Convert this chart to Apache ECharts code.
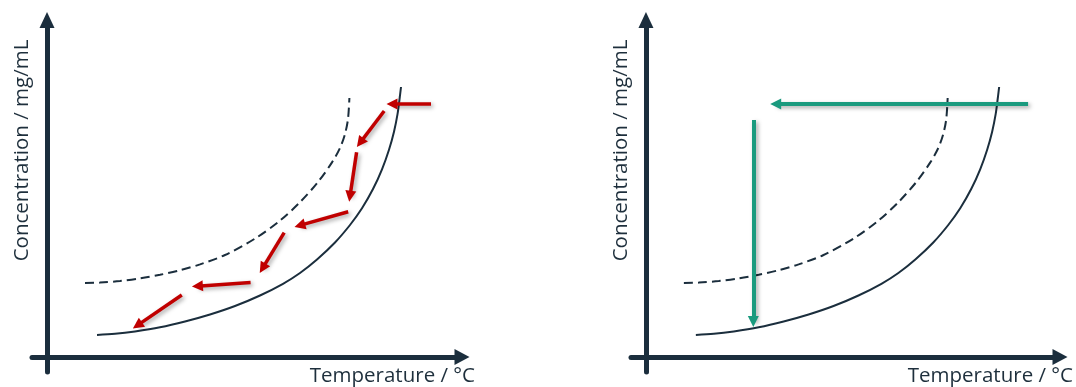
<!DOCTYPE html>
<html>
<head>
<meta charset="utf-8">
<script src="https://cdn.jsdelivr.net/npm/echarts@6/dist/echarts.min.js"></script>
<style>
html,body{margin:0;padding:0;background:#fff;}
#chart{width:1076px;height:387px;}
</style>
</head>
<body>
<div id="chart"></div>
<script>
// ---- data (arbitrary units; x = temperature, y = concentration) ----
const xAxisName = 'Temperature / °C';
const yAxisName = 'Concentration / mg/mL';

// solubility curve (solid)
const solubilityCurve = [
  [12.5, 5.5], [17, 5.8], [22, 6.4], [28.25, 7.43], [34.5, 8.88], [40.75, 10.63], [47, 12.75],
  [53.25, 15.38], [59, 18.3], [63.25, 21], [67.5, 24.38], [72, 28.63], [75.75, 33],
  [78.75, 37.18], [81.5, 41.98], [83.75, 46.93], [85.5, 51.83], [86.75, 56.33], [87.63, 60.7],
  [88.2, 65], [88.5, 67.5]
];
// metastable limit (dashed)
const metastableCurve = [
  [9.5, 18.5], [13.25, 18.6], [18.25, 19.0], [23.25, 19.65], [28.25, 20.55], [33.25, 21.7],
  [38.25, 23.15], [44.5, 25.5], [52, 29.6], [58.25, 34.1], [63.25, 38.7], [67.75, 43.75],
  [71.25, 48.65], [73.25, 52.25], [74.5, 55.75], [75.25, 59.5], [75.6, 64.75]
];
// left panel: stepwise cooling path (tail -> head)
const coolingSteps = [
  [[96, 63.25], [86.25, 63.25]],
  [[84.3, 61.5], [78.3, 53.6]],
  [[77.4, 51.2], [75.75, 40.2]],
  [[75.3, 36.3], [63.2, 32.9]],
  [[59.3, 31.1], [53.9, 22.2]],
  [[50.9, 18.6], [37.6, 17.7]],
  [[33.7, 15.5], [22.6, 7.9]]
];
// right panel: crash cooling path (tail -> head)
const crashPath = [
  [[95.75, 63.25], [32.5, 63.25]],
  [[26.9, 59.25], [26.9, 8.9]]
];

const axisColor = '#1b2e3d';
const textColor = '#1e2f3c';
const fontFamily = '"Open Sans", "Noto Sans", sans-serif';
const fontSize = 20.5;

function makeX(gi) {
  return {
    type: 'value', gridIndex: gi, min: -3.75, max: 103,
    name: xAxisName, nameLocation: 'end', nameGap: 16,
    nameTextStyle: { color: textColor, fontSize: fontSize, fontFamily: fontFamily, align: 'right', verticalAlign: 'top', padding: [9, 0, 0, 0] },
    axisLine: { show: true, onZero: true, symbol: ['none', 'triangle'], symbolSize: [16, 15], symbolOffset: [0, 3],
      lineStyle: { color: axisColor, width: 5 } },
    axisTick: { show: false }, axisLabel: { show: false }, splitLine: { show: false }
  };
}
function makeY(gi) {
  return {
    type: 'value', gridIndex: gi, min: -3.75, max: 83.5,
    name: yAxisName, nameLocation: 'middle', nameRotate: 90, nameGap: -1,
    nameTextStyle: { color: textColor, fontSize: fontSize, fontFamily: fontFamily, padding: [0, 0, 0, 94] },
    axisLine: { show: true, onZero: true, symbol: ['none', 'triangle'], symbolSize: [15, 16], symbolOffset: [0, 3],
      lineStyle: { color: axisColor, width: 5 } },
    axisTick: { show: false }, axisLabel: { show: false }, splitLine: { show: false }
  };
}
function curves(gi) {
  return [
    { type: 'line', xAxisIndex: gi, yAxisIndex: gi, data: solubilityCurve, smooth: 0.3, showSymbol: false,
      lineStyle: { color: axisColor, width: 2 }, z: 3 },
    { type: 'line', xAxisIndex: gi, yAxisIndex: gi, data: metastableCurve, smooth: 0.3, showSymbol: false,
      lineStyle: { color: axisColor, width: 2, type: [9, 5] }, z: 3 }
  ];
}
function arrows(gi, path, color, width, size) {
  return {
    type: 'lines', coordinateSystem: 'cartesian2d', xAxisIndex: gi, yAxisIndex: gi,
    polyline: false, symbol: ['none', 'triangle'], symbolSize: size, z: 4,
    lineStyle: { color: color, width: width, opacity: 1, curveness: 0,
      shadowColor: 'rgba(0,0,0,0.35)', shadowBlur: 4, shadowOffsetX: 2, shadowOffsetY: 2 },
    itemStyle: { color: color },
    data: path.map(p => ({ coords: p }))
  };
}

const chart = echarts.init(document.getElementById('chart'), null, { renderer: 'canvas' });
chart.setOption({
  animation: false,
  backgroundColor: '#ffffff',
  grid: [
    { left: 32, top: 23, width: 427, height: 349, containLabel: false },
    { left: 631, top: 23, width: 427, height: 349, containLabel: false }
  ],
  xAxis: [makeX(0), makeX(1)],
  yAxis: [makeY(0), makeY(1)],
  series: [
    ...curves(0),
    ...curves(1),
    arrows(0, coolingSteps, '#c00000', 3.5, 11),
    arrows(1, crashPath, '#1a9a7e', 4, 11)
  ]
});
</script>
</body>
</html>
